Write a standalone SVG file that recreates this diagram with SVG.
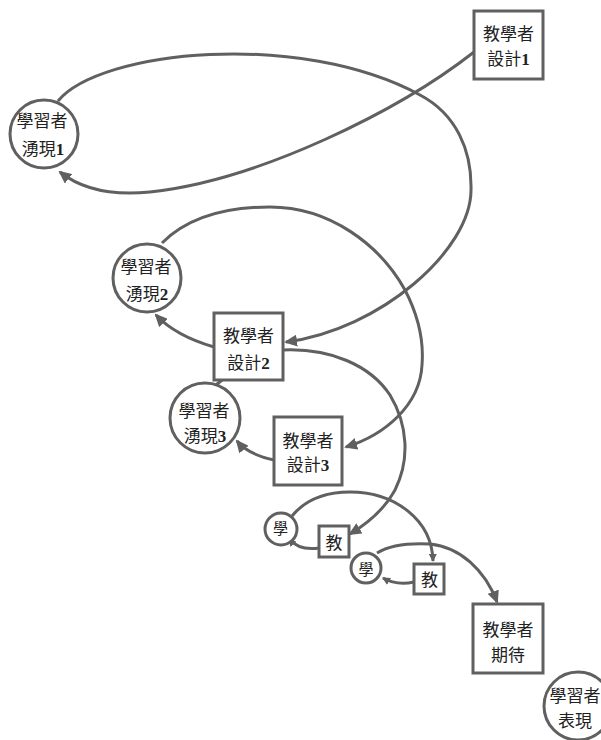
<svg xmlns="http://www.w3.org/2000/svg" width="601" height="740" viewBox="0 0 601 740">
<defs>
<style>
.n{fill:#ffffff;stroke:#606060;stroke-width:3}
.c{fill:none;stroke:#606060;stroke-width:3}
.t{font-family:"Liberation Serif","Noto Sans CJK TC","Noto Sans CJK SC",serif;font-size:17px;fill:#222222;text-anchor:middle}
.s{font-size:15px}
.b{font-weight:bold}
</style>
<marker id="ah" markerUnits="userSpaceOnUse" markerWidth="13" markerHeight="12" refX="11" refY="6" orient="auto"><path d="M0,0 L13,6 L0,12 z" fill="#606060"/></marker>
<marker id="as" markerUnits="userSpaceOnUse" markerWidth="8" markerHeight="8" refX="7" refY="4" orient="auto"><path d="M0,0 L8,4 L0,8 z" fill="#606060"/></marker>
</defs>
<rect width="601" height="740" fill="#ffffff"/>
<g id="connectors">
<path class="c" d="M474,52 C400,110 260,180 150,192 C110,196 80,188 60,172" marker-end="url(#ah)"/>
<path class="c" d="M58,101 C100,50 300,30 420,95 C456,114 472,150 471,190 C471,250 380,330 286,342" marker-end="url(#ah)"/>
<path class="c" d="M162,243 C190,215 230,207 270,207 C330,207 380,245 405,290 C418,315 424,340 422,365 C420,405 385,435 346,447" marker-end="url(#ah)"/>
<path class="c" d="M283,350 C330,348 370,365 390,395 C408,425 410,460 395,490 C383,512 365,525 350,534" marker-end="url(#ah)"/>
<path class="c" d="M214,347 C190,340 170,330 156,315" marker-end="url(#ah)"/>
<path class="c" d="M216,385 L222,380"/>
<path class="c" d="M274,460 C260,457 246,452 237,441" marker-end="url(#ah)"/>
<path class="c" d="M292,516 C305,500 325,492 350,492 C395,492 432,520 433,561" marker-end="url(#as)"/>
<path class="c" d="M319,548 C305,550 295,546 289,539" marker-end="url(#as)"/>
<path class="c" d="M377,553 C390,545 410,543 430,544 C460,547 485,570 497,602" marker-end="url(#ah)"/>
<path class="c" d="M414,582 C400,585 390,582 383,578" marker-end="url(#as)"/>
</g>
<g id="design1"><rect class="n" x="474" y="11" width="69" height="68"/><text class="t" x="508.5" y="40">教學者</text><text class="t" x="508.5" y="65">設計<tspan class="b">1</tspan></text></g>
<g id="emerge1"><circle class="n" cx="44" cy="134" r="34"/><text class="t" x="42" y="127">學習者</text><text class="t" x="43" y="155">湧現<tspan class="b">1</tspan></text></g>
<g id="emerge2"><circle class="n" cx="147" cy="278" r="34"/><text class="t" x="146" y="273">學習者</text><text class="t" x="147" y="300">湧現<tspan class="b">2</tspan></text></g>
<g id="design2"><rect class="n" x="214" y="313" width="69" height="67"/><text class="t" x="248.5" y="342">教學者</text><text class="t" x="248.5" y="369">設計<tspan class="b">2</tspan></text></g>
<g id="emerge3"><circle class="n" cx="205" cy="418" r="35"/><text class="t" x="204" y="417">學習者</text><text class="t" x="205" y="442">湧現<tspan class="b">3</tspan></text></g>
<g id="design3"><rect class="n" x="274" y="417" width="68" height="68"/><text class="t" x="308" y="447">教學者</text><text class="t" x="308" y="471">設計<tspan class="b">3</tspan></text></g>
<g id="learn1"><circle class="n" cx="281" cy="529" r="16"/><text class="t s" x="280.5" y="534">學</text></g>
<g id="teach1"><rect class="n" x="319" y="526" width="30" height="31"/><text class="t" x="334" y="548.5">教</text></g>
<g id="learn2"><circle class="n" cx="366" cy="568" r="15"/><text class="t s" x="366" y="574.5">學</text></g>
<g id="teach2"><rect class="n" x="414" y="564" width="30" height="30"/><text class="t" x="429.5" y="586">教</text></g>
<g id="expect"><rect class="n" x="473" y="604" width="70" height="69"/><text class="t" x="508" y="636">教學者</text><text class="t" x="508" y="660.5">期待</text></g>
<g id="perform"><circle class="n" cx="578" cy="706" r="34"/><text class="t" x="575" y="702">學習者</text><text class="t" x="575" y="727">表現</text></g>
</svg>
